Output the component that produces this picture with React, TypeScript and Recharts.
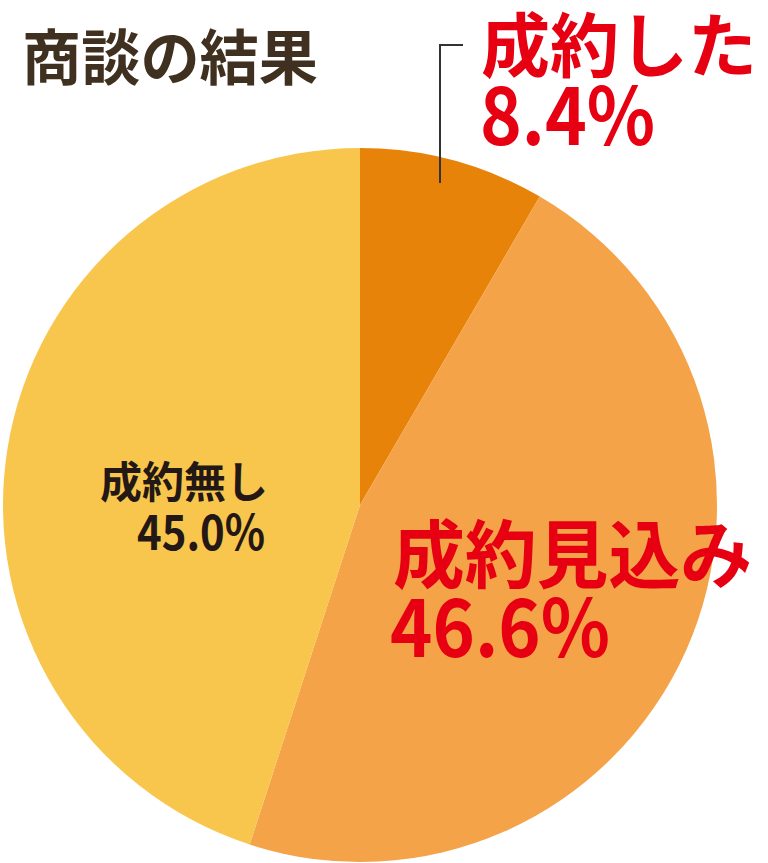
import React from 'react';
import { PieChart, Pie, Cell } from 'recharts';

const categories = ['成約した', '成約見込み', '成約無し'];
const shares = [8.4, 46.6, 45.0];
const COLORS = ['#E8830A', '#F4A348', '#F9C64D'];

const data = categories.map((name, i) => ({ name, value: shares[i] }));

const FONT = '"Noto Sans CJK JP", "Noto Sans", sans-serif';
const RED = '#E60012';

// condensed look of the original lettering: fix width with textLength
const Label = ({ x, y, size, width, fill, children }: any) => (
  <text x={x} y={y} fontSize={size} fill={fill} textLength={width} lengthAdjust="spacingAndGlyphs">
    {children}
  </text>
);

export default function App() {
  return (
    <div style={{ position: 'absolute', left: 0, top: 0, width: 768, height: 863, background: '#fff' }}>
      <PieChart width={768} height={863} margin={{ top: 0, right: 0, bottom: 0, left: 0 }}>
        <Pie
          data={data}
          dataKey="value"
          cx={360}
          cy={505}
          outerRadius={357}
          startAngle={90}
          endAngle={-270}
          stroke="none"
          isAnimationActive={false}
        >
          {data.map((entry, index) => (
            <Cell key={`cell-${index}`} fill={COLORS[index]} />
          ))}
        </Pie>
      </PieChart>
      <svg
        width={768}
        height={863}
        style={{ position: 'absolute', left: 0, top: 0, pointerEvents: 'none' }}
        fontFamily={FONT}
        fontWeight={700}
      >
        <Label x={22} y={80} size={60} width={296} fill="#40301F">商談の結果</Label>

        <polyline points="440,183 440,45 463,45" fill="none" stroke="#333" strokeWidth={2} />
        <Label x={481} y={72} size={70} width={276} fill={RED}>{data[0].name}</Label>
        <Label x={480} y={145} size={80} width={175} fill={RED}>{`${data[0].value.toFixed(1)}%`}</Label>

        <Label x={393} y={582} size={74} width={359} fill={RED}>{data[1].name}</Label>
        <Label x={390} y={657} size={80} width={220} fill={RED}>{`${data[1].value.toFixed(1)}%`}</Label>

        <Label x={100} y={498} size={43} width={168} fill="#231815">{data[2].name}</Label>
        <Label x={137} y={550} size={48} width={128} fill="#231815">{`${data[2].value.toFixed(1)}%`}</Label>
      </svg>
    </div>
  );
}
